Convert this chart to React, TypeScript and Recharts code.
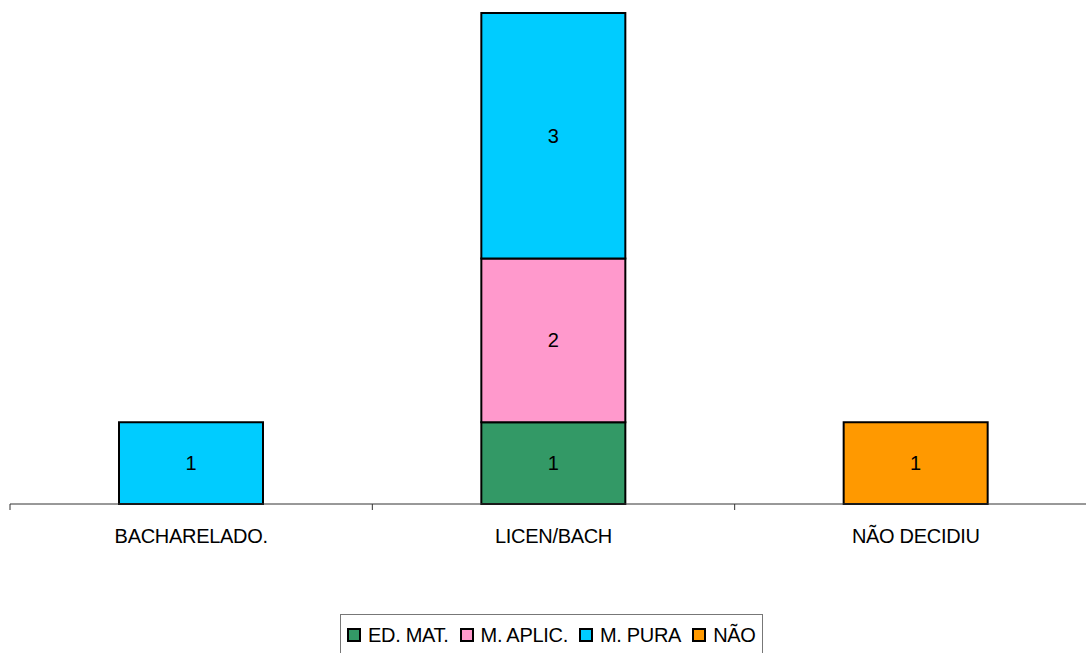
import React from "react";
import { BarChart, Bar, XAxis, YAxis, LabelList } from "recharts";

const categories = ["BACHARELADO.", "LICEN/BACH", "NÃO DECIDIU"];
const edMat = [null, 1, null];
const mAplic = [null, 2, null];
const mPura = [1, 3, null];
const nao = [null, null, 1];

const seriesList = [
  { key: "edMat", name: "ED. MAT.", color: "#339966", values: edMat },
  { key: "mAplic", name: "M. APLIC.", color: "#FF99CC", values: mAplic },
  { key: "mPura", name: "M. PURA", color: "#00CCFF", values: mPura },
  { key: "nao", name: "NÃO", color: "#FF9900", values: nao },
];

const data = categories.map((cat, i) => {
  const row: Record<string, any> = { cat };
  seriesList.forEach((s) => {
    row[s.key] = s.values[i];
  });
  return row;
});

const CHART_W = 1100;
const CHART_H = 653;
const MARGIN = { top: 13, right: 3, bottom: 0, left: 10 };
const PLOT_W = CHART_W - MARGIN.left - MARGIN.right;
const BAND = PLOT_W / categories.length;
const FONT = "'Liberation Sans', Arial, sans-serif";

// category label plus tick marks on the band boundaries
function CategoryTick(props: any) {
  const { x, y, payload, index } = props;
  const left = x - BAND / 2;
  return (
    <g>
      <line x1={left} y1={y - 8} x2={left} y2={y - 2} stroke="#333" strokeWidth={1} />
      {index === categories.length - 1 && (
        <line x1={x + BAND / 2} y1={y - 8} x2={x + BAND / 2} y2={y - 2} stroke="#333" />
      )}
      <text
        x={x}
        y={y + 31}
        textAnchor="middle"
        fontSize={20}
        letterSpacing={-0.3}
        fill="#000"
        fontFamily={FONT}
      >
        {payload.value}
      </text>
    </g>
  );
}

function LegendBox() {
  return (
    <div
      style={{
        position: "absolute",
        left: 340,
        top: 614,
        border: "1px solid #777",
        display: "flex",
        alignItems: "center",
        gap: 11,
        padding: "0 6px",
        fontFamily: FONT,
        fontSize: 20,
        letterSpacing: -0.3,
        color: "#000",
        background: "#fff",
        height: 42,
        boxSizing: "border-box",
        whiteSpace: "nowrap",
      }}
    >
      {seriesList.map((s) => (
        <span key={s.key} style={{ display: "flex", alignItems: "center", gap: 7 }}>
          <span
            style={{
              display: "inline-block",
              width: 10,
              height: 10,
              background: s.color,
              border: "2px solid #000",
            }}
          />
          {s.name}
        </span>
      ))}
    </div>
  );
}

export default function App() {
  return (
    <div
      style={{
        position: "absolute",
        left: 0,
        top: 0,
        width: 1086,
        height: 653,
        overflow: "hidden",
        background: "#fff",
      }}
    >
      <BarChart width={CHART_W} height={CHART_H} data={data} margin={MARGIN}>
        <XAxis
          dataKey="cat"
          axisLine={{ stroke: "#333", strokeWidth: 1 }}
          tickLine={false}
          tick={<CategoryTick />}
          height={149}
          interval={0}
        />
        <YAxis hide domain={[0, 6]} />
        {seriesList.map((s) => (
          <Bar
            key={s.key}
            dataKey={s.key}
            name={s.name}
            stackId="a"
            fill={s.color}
            stroke="#000"
            strokeWidth={2}
            barSize={144}
            isAnimationActive={false}
          >
            <LabelList dataKey={s.key} position="center" fill="#000" fontSize={20} fontFamily={FONT} />
          </Bar>
        ))}
      </BarChart>
      <LegendBox />
    </div>
  );
}
